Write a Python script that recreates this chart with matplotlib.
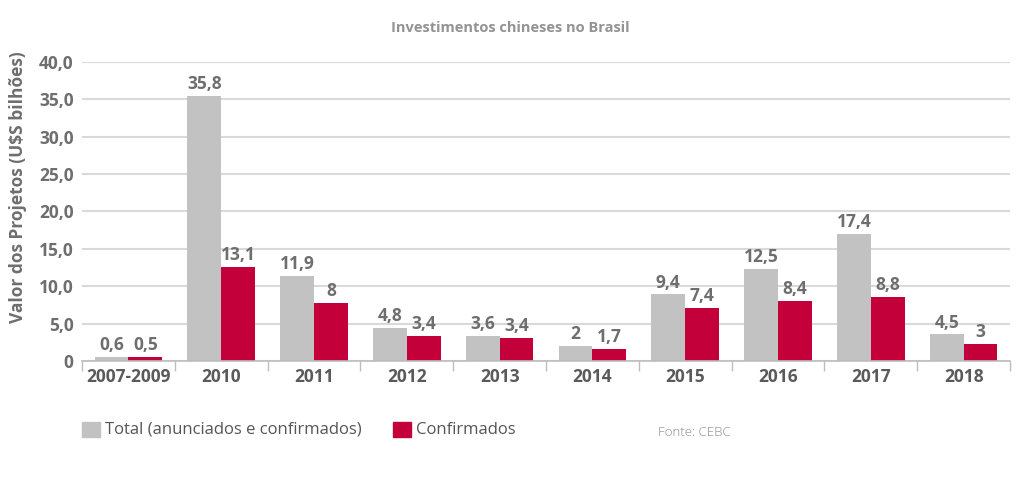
import matplotlib
matplotlib.use("Agg")
import matplotlib.pyplot as plt
from matplotlib.patches import Rectangle
import numpy as np

plt.rcParams['font.family'] = ['Open Sans', 'DejaVu Sans']

categories = ["2007-2009", "2010", "2011", "2012", "2013", "2014", "2015", "2016", "2017", "2018"]
# bar heights as drawn
total_bar = [0.55, 35.4, 11.4, 4.4, 3.4, 2.0, 8.9, 12.3, 17.0, 3.55]
conf_bar = [0.6, 12.6, 7.75, 3.4, 3.1, 1.6, 7.1, 8.0, 8.55, 2.25]
# value labels as printed
total_labels = [0.6, 35.8, 11.9, 4.8, 3.6, 2, 9.4, 12.5, 17.4, 4.5]
conf_labels = [0.5, 13.1, 8, 3.4, 3.4, 1.7, 7.4, 8.4, 8.8, 3]
yticks = [0, 5, 10, 15, 20, 25, 30, 35, 40]
ytick_labels = ["0", "5,0", "10,0", "15,0", "20,0", "25,0", "30,0", "35,0", "40,0"]

GRAY = "#c2c2c2"
RED = "#c4003b"
TXT = "#6e6e6e"

fig = plt.figure(figsize=(10.24, 4.78), dpi=100)
ax = fig.add_axes([82/1024, 1-361/478, (1010-82)/1024, (361-61.7)/478])

x = np.arange(len(categories))
w = 0.365
ax.bar(x - w/2, total_bar, width=w, color=GRAY, zorder=3)
ax.bar(x + w/2, conf_bar, width=w, color=RED, zorder=3)

def fmt(v):
    return f"{v:g}".replace(".", ",")

for xi, h, lab in zip(x, total_bar, total_labels):
    ax.annotate(fmt(lab), (xi - w/2, h), xytext=(0, 2), textcoords="offset points",
                ha="center", va="bottom", fontsize=12.5, fontweight="bold", color=TXT)
for xi, h, lab in zip(x, conf_bar, conf_labels):
    ax.annotate(fmt(lab), (xi + w/2, h), xytext=(0, 2), textcoords="offset points",
                ha="center", va="bottom", fontsize=12.5, fontweight="bold", color=TXT)

ax.set_xlim(-0.5, len(categories) - 0.5)
ax.set_ylim(0, 40)
ax.set_yticks(yticks)
ax.set_yticklabels(ytick_labels)
ax.set_xticks(x)
ax.set_xticklabels(categories)
ax.set_xticks(np.arange(len(categories) + 1) - 0.5, minor=True)
ax.tick_params(axis="x", which="major", length=0, pad=5, labelsize=12.5, labelcolor="#5a5a5a")
ax.tick_params(axis="x", which="minor", length=7, width=1, color="#bdbdbd")
ax.tick_params(axis="y", length=0, pad=6, labelsize=12.5, labelcolor=TXT)
for lab in ax.get_xticklabels() + ax.get_yticklabels():
    lab.set_fontweight("bold")

ax.grid(axis="y", color="#d9d9d9", linewidth=1.5, zorder=0)
for s in ["top", "right", "left"]:
    ax.spines[s].set_visible(False)
ax.spines["bottom"].set_color("#bdbdbd")
ax.spines["bottom"].set_linewidth(1.2)
ax.spines["bottom"].set_zorder(4)

fig.text(18/1024, 1-187/478, "Valor dos Projetos (U$S bilhões)", rotation=90, ha="center", va="center",
         fontsize=12.5, fontweight="bold", color=TXT)
fig.text(510/1024, 1-28/478, "Investimentos chineses no Brasil", ha="center", va="center",
         fontsize=10.5, fontweight="bold", color="#939393")

# legend
fig.patches.append(Rectangle((82/1024, 1-437/478), 18/1024, 15/478, transform=fig.transFigure,
                             color=GRAY, figure=fig))
fig.text(105/1024, 1-430/478, "Total (anunciados e confirmados)", ha="left", va="center",
         fontsize=12, color="#555555")
fig.patches.append(Rectangle((393/1024, 1-437/478), 18/1024, 15/478, transform=fig.transFigure,
                             color=RED, figure=fig))
fig.text(416/1024, 1-430/478, "Confirmados", ha="left", va="center",
         fontsize=12, color="#555555")
fig.text(658/1024, 1-432/478, "Fonte: CEBC", ha="left", va="center",
         fontsize=9.5, fontweight="light", color="#8a8a8a")

fig.savefig("out.png", dpi=100, facecolor="white")
